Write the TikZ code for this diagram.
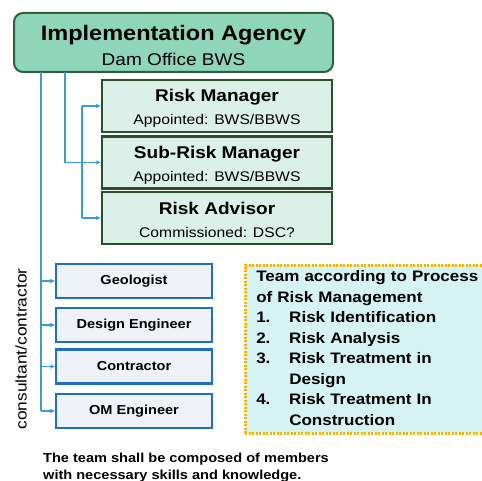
\documentclass[tikz,border=0pt]{standalone}
\usepackage{fontspec}
\setmainfont{Liberation Sans}[FakeStretch=1.12]
\usepackage{xcolor}
\usepackage{tikz}
\usetikzlibrary{arrows.meta}
\definecolor{agencyfill}{HTML}{8FD5BC}
\definecolor{agencydraw}{HTML}{2B5F3D}
\definecolor{riskfill}{HTML}{DAF0E8}
\definecolor{riskdraw}{HTML}{2C4F31}
\definecolor{memberfill}{HTML}{EEF2F6}
\definecolor{memberdraw}{HTML}{1E6FC0}
\definecolor{linkblue}{HTML}{3E9BC9}
\definecolor{teamfill}{HTML}{D6F3F3}
\definecolor{teamdraw}{HTML}{F5B400}
\tikzset{agency/.style={draw=agencydraw,line width=2pt,fill=agencyfill,
    rounded corners=9pt,minimum width=319pt,minimum height=59pt,
    align=center,inner sep=0pt,font=\fontsize{17}{25}\selectfont},
    riskbox/.style={draw=riskdraw,line width=2.6pt,fill=riskfill,
    minimum width=230pt,minimum height=52pt,align=center,inner sep=0pt,
    font=\fontsize{14}{23}\selectfont},
    memberbox/.style={draw=memberdraw,line width=2.2pt,fill=memberfill,
    minimum width=156pt,minimum height=34pt,inner sep=0pt,
    font=\fontsize{13}{15}\selectfont\bfseries},
    teambox/.style={draw=teamdraw,line width=2.5pt,dash pattern=on 2pt off 1.5pt,
    fill=teamfill,text width=224pt,inner xsep=11pt,inner ysep=2pt,align=left,
    font=\fontsize{15.2}{20.5}\selectfont\bfseries},
    link/.style={draw=linkblue,line width=1.4pt},
    linkarrow/.style={link,-{Stealth[length=5pt,width=4.5pt]}}}
\newcommand{\rolename}[1]{{\rule{0pt}{17pt}\fontsize{17}{23}\selectfont\bfseries #1}}
\newcommand{\roleinfo}[1]{{\fontsize{14}{23}\selectfont #1}}

\begin{document}
\begin{tikzpicture}[x=1pt,y=-1pt]
\clip (0,0) rectangle (482,481);
\node[agency] (agency) at (173.5,42.5)
    {{\rule{0pt}{21pt}\fontsize{21}{25}\selectfont\bfseries Implementation Agency}\\
     Dam Office BWS};
\node[riskbox] (rm) at (217,106)
    {\rolename{Risk Manager}\\\roleinfo{Appointed: BWS/BBWS}};
\node[riskbox] (sub) at (217,162.5)
    {\rolename{Sub-Risk Manager}\\\roleinfo{Appointed: BWS/BBWS}};
\node[riskbox] (ra) at (217,218)
    {\rolename{Risk Advisor}\\\roleinfo{Commissioned: DSC?}};

\node[memberbox] (geo) at (134,281) {Geologist};
\node[memberbox] (design) at (134,325) {Design Engineer};
\node[memberbox] (contr) at (134,366.5) {Contractor};
\node[memberbox] (om) at (134,411) {OM Engineer};

\node[rotate=90,font=\fontsize{15.5}{19}\selectfont] (side) at (21,349)
    {consultant/contractor};

% connectors
\coordinate (trunk) at (41,72);
\coordinate (branch) at (65,72);
\coordinate (bracket) at (82,0);
\draw[link] (trunk) -- (trunk |- om.west);
\foreach \m in {geo,design,contr,om}
    \draw[linkarrow] (trunk |- \m.west) -- (\m.west);
\draw[linkarrow] (branch) |- (sub.west);
\draw[link] (bracket |- rm.west) -- (bracket |- ra.west);
\draw[linkarrow] (bracket |- rm.west) -- (rm.west);
\draw[linkarrow] (bracket |- ra.west) -- (ra.west);

\node[teambox,anchor=north west] (team) at (244,264)
    {\begin{tabular}{@{}p{33pt}@{}l@{}}
     \multicolumn{2}{@{}l@{}}{Team according to Process}\\
     \multicolumn{2}{@{}l@{}}{of Risk Management}\\
     1. & Risk Identification\\
     2. & Risk Analysis\\
     3. & Risk Treatment in\\
        & Design\\
     4. & Risk Treatment In\\
        & Construction
     \end{tabular}};

\node[anchor=north west,align=left,inner sep=0pt,
    font=\fontsize{13}{17}\selectfont\bfseries] (note) at (43,453)
    {The team shall be composed of members\\with necessary skills and knowledge.};
\end{tikzpicture}
\end{document}
